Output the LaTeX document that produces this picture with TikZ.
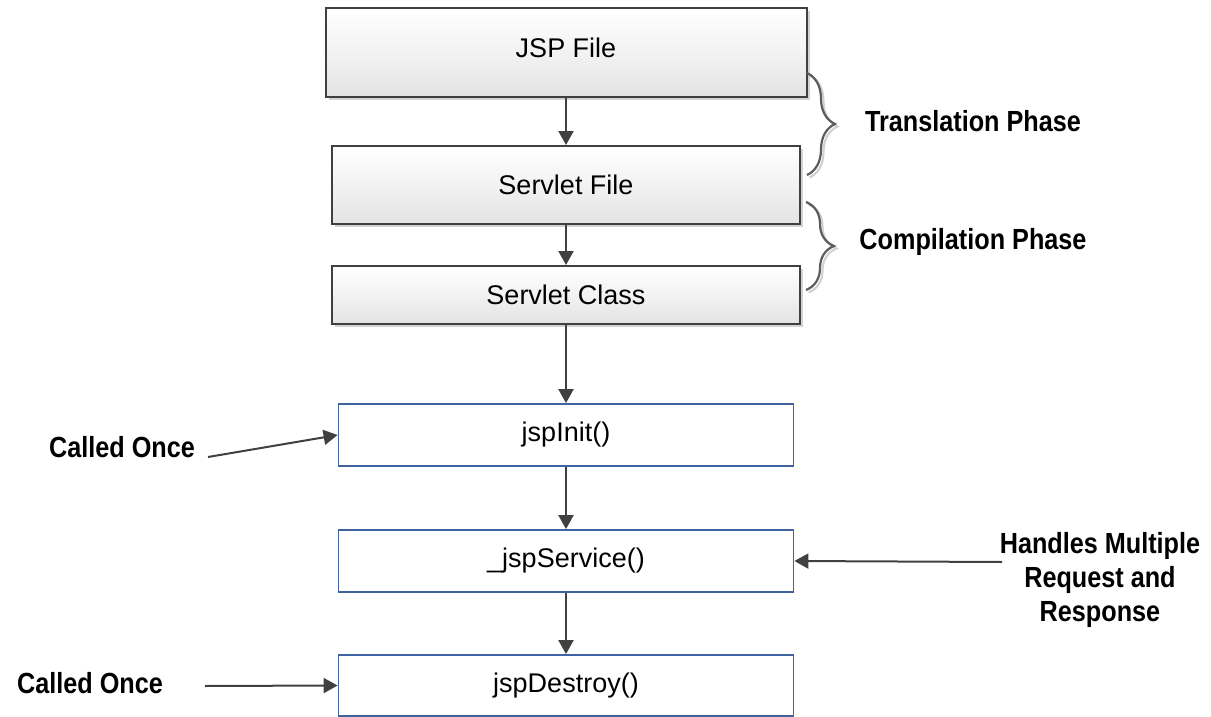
\documentclass[tikz,border=0pt]{standalone}
\usepackage{fontspec}
\setmainfont{Liberation Sans}
\usetikzlibrary{arrows.meta,shadows,decorations.pathreplacing}
\definecolor{edgegray}{HTML}{404040}
\definecolor{boxblue}{HTML}{4064A0}
\tikzset{
  graybox/.style={draw=edgegray, line width=2pt, top color=white, bottom color=gray!22,
    middle color=gray!10, drop shadow={shadow xshift=3pt, shadow yshift=-3pt, opacity=0.35},
    inner sep=0pt, font=\fontsize{27}{32}\selectfont},
  bluebox/.style={draw=boxblue, line width=1.8pt, fill=white, inner sep=0pt,
    minimum width=455pt, minimum height=62pt, font=\fontsize{27}{32}\selectfont},
  flow/.style={draw=edgegray, line width=2pt, -{Triangle[length=14pt,width=15pt]}},
  lbl/.style={font=\fontsize{26}{34}\selectfont\bfseries, inner sep=0pt, align=center},
  bracestyle/.style={decorate, decoration={brace, amplitude=28pt}, line width=2.2pt},
}
\newcommand{\tallbf}[1]{\scalebox{0.97}[1.12]{#1}}
\begin{document}
\begin{tikzpicture}[x=1pt,y=-1pt]
\useasboundingbox (0,0) rectangle (1211,717);
% boxes
\node[graybox, minimum width=481pt, minimum height=89pt, text depth=10pt] (jsp) at (566,52.5) {JSP File};
\node[graybox, minimum width=468pt, minimum height=78pt] (sfile) at (566,185) {Servlet File};
\node[graybox, minimum width=468pt, minimum height=58pt] (sclass) at (566,295) {Servlet Class};
\node[bluebox] (init) at (566,435) {jspInit()};
\node[bluebox] (service) at (566,561) {\_jspService()};
\node[bluebox, minimum height=61pt] (destroy) at (566,685.5) {jspDestroy()};
% flow arrows
\draw[flow] (jsp.south) -- (sfile.north);
\draw[flow] (sfile.south) -- (sclass.north);
\draw[flow] (sclass.south) -- (init.north);
\draw[flow] (init.south) -- (service.north);
\draw[flow] (service.south) -- (destroy.north);
% braces
\coordinate (b1s) at (807,73);
\coordinate (b1e) at (807,175);
\coordinate (b2s) at (806,202);
\coordinate (b2e) at (806,290);
\draw[bracestyle, gray!35, transform canvas={xshift=2.5pt,yshift=-2.5pt}] (b1s) -- (b1e);
\draw[bracestyle, gray!35, transform canvas={xshift=2.5pt,yshift=-2.5pt}] (b2s) -- (b2e);
\draw[bracestyle, edgegray!85] (b1s) -- (b1e);
\draw[bracestyle, edgegray!85] (b2s) -- (b2e);
% labels
\node[lbl] (tp) at (973,121) {\tallbf{Translation Phase}};
\node[lbl] (cp) at (973,242) {\tallbf{Compilation Phase}};
\node[lbl] (co1) at (122,447) {\tallbf{Called Once}};
\node[lbl] (co2) at (90,683) {\tallbf{Called Once}};
\node[lbl] (hm) at (1100,580) {\tallbf{Handles Multiple}\\\tallbf{Request and}\\\tallbf{Response}};
% label arrows
\coordinate (c1) at (208,457);
\coordinate (c2) at (205,686);
\coordinate (h1) at (1002,562);
\draw[flow] (c1) -- (init.west);
\draw[flow] (c2) -- (destroy.west);
\draw[flow] (h1) -- (service.east);
\end{tikzpicture}
\end{document}
